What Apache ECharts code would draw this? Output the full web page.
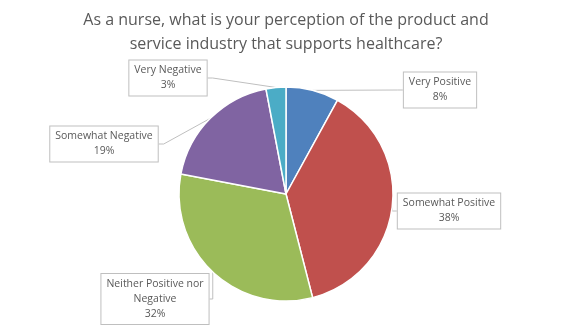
<!DOCTYPE html>
<html>
<head>
<meta charset="utf-8">
<script src="https://cdn.jsdelivr.net/npm/echarts@6/dist/echarts.min.js"></script>
<style>html,body{margin:0;padding:0;background:#fff}#c{width:572px;height:332px}</style>
</head>
<body>
<div id="c"></div>
<script>
const titleText = 'As a nurse, what is your perception of the product and\nservice industry that supports healthcare?';
const categories = ['Very Positive', 'Somewhat Positive', 'Neither Positive nor Negative', 'Somewhat Negative', 'Very Negative'];
const values = [8, 38, 32, 19, 3];
const colors = ['#4F81BD', '#C0504D', '#9BBB59', '#8064A2', '#4BACC6'];
const labelNames = ['Very Positive', 'Somewhat Positive', 'Neither Positive nor\nNegative', 'Somewhat Negative', 'Very Negative'];
const labelPos = [[440, 90], [449, 211], [155, 299], [104, 144], [168, 78]];

const chart = echarts.init(document.getElementById('c'), null, {renderer: 'canvas'});
chart.setOption({
  animation: false,
  title: {
    text: titleText,
    left: 'center',
    top: 3,
    textStyle: {fontFamily: 'Open Sans', fontSize: 16, fontWeight: 'normal', color: '#595959', lineHeight: 24}
  },
  series: [{
    type: 'pie',
    center: [286, 194],
    radius: 107,
    startAngle: 90,
    clockwise: true,
    data: categories.map((n, i) => ({name: n, value: values[i], itemStyle: {color: colors[i]}})),
    itemStyle: {borderColor: '#fff', borderWidth: 1.5},
    label: {
      show: true,
      formatter: p => labelNames[p.dataIndex] + '\n' + p.value + '%',
      fontFamily: 'Open Sans',
      fontSize: 10.5,
      lineHeight: 15,
      color: '#595959',
      align: 'center',
      backgroundColor: '#fff',
      borderColor: '#bfbfbf',
      borderWidth: 1,
      padding: [3, 5, 2, 5]
    },
    labelLine: {show: true, length: 5, length2: 5, lineStyle: {color: '#bfbfbf', width: 1}},
    labelLayout: p => ({x: labelPos[p.dataIndex][0], y: labelPos[p.dataIndex][1], align: 'center', verticalAlign: 'middle'})
  }]
});
</script>
</body>
</html>
